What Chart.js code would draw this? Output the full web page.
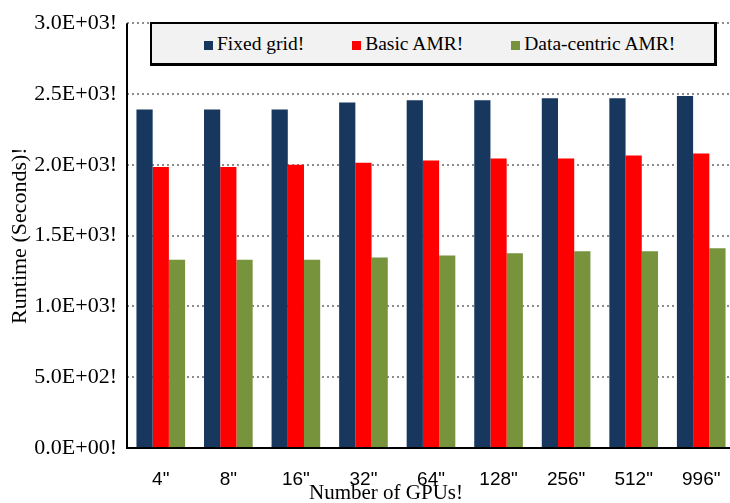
<!DOCTYPE html>
<html>
<head>
<meta charset="utf-8">
<script src="https://cdn.jsdelivr.net/npm/chart.js@4"></script>
<style>
  body { margin: 0; background: #fff; overflow: hidden; }
  #wrap { position: relative; width: 730px; height: 503px; overflow: hidden; }
  #legend {
    position: absolute; left: 150px; top: 22px; width: 567px; height: 44px;
    box-sizing: border-box; white-space: nowrap;
    background: #f2f2f2; border: 2px solid #000;
    border-right-width: 3px; border-bottom-width: 3px;
    display: flex; align-items: center; padding-left: 52px; padding-top: 1px;
    font-family: "Liberation Serif", serif; font-size: 19.5px; color: #000;
  }
  #legend .item { display: flex; align-items: center; flex-shrink: 0; }
  #legend .item + .item { margin-left: 48px; }
  #legend .box { width: 9px; height: 9px; margin-right: 4px; margin-top: 2px; flex-shrink: 0; }
</style>
</head>
<body>
<div id="wrap">
  <!-- plot area runs a few pixels past the right edge in the original -->
  <canvas id="runtimeChart" width="735" height="503"></canvas>
  <div id="legend"></div>
</div>
<script>
// Data
const gpuCounts = ['4"', '8"', '16"', '32"', '64"', '128"', '256"', '512"', '996"'];
const fixedGrid = [2390, 2390, 2390, 2440, 2455, 2455, 2470, 2470, 2485];
const basicAmr = [1985, 1985, 2000, 2015, 2030, 2045, 2045, 2065, 2080];
const dataCentricAmr = [1330, 1330, 1330, 1345, 1360, 1375, 1390, 1390, 1410];
const yTickLabels = ['0.0E+00!', '5.0E+02!', '1.0E+03!', '1.5E+03!', '2.0E+03!', '2.5E+03!', '3.0E+03!'];

const serif = '"Liberation Serif", "Times New Roman", serif';

// x axis title sits left of the plot centre in the original,
// and the y axis line is solid while the grid is dotted
const axisPlugin = {
  id: 'axisExtras',
  afterDraw(chart) {
    const ctx = chart.ctx;
    const area = chart.chartArea;
    ctx.save();
    ctx.strokeStyle = '#000';
    ctx.lineWidth = 2;
    ctx.setLineDash([]);
    ctx.beginPath();
    ctx.moveTo(area.left, area.top);
    ctx.lineTo(area.left, area.bottom + 1);
    ctx.stroke();

    ctx.font = '21px ' + serif;
    ctx.fillStyle = '#000';
    ctx.textAlign = 'center';
    ctx.textBaseline = 'alphabetic';
    ctx.fillText('Number of GPUs!', area.left + 259, chart.height - 4);
    ctx.restore();
  }
};

const chart = new Chart(document.getElementById('runtimeChart'), {
  type: 'bar',
  data: {
    labels: gpuCounts,
    datasets: [
      { label: 'Fixed grid!', data: fixedGrid, backgroundColor: '#17375e' },
      { label: 'Basic AMR!', data: basicAmr, backgroundColor: '#ff0000' },
      { label: 'Data-centric AMR!', data: dataCentricAmr, backgroundColor: '#77933c' },
    ],
  },
  options: {
    responsive: false,
    animation: false,
    layout: { padding: { top: 21, right: 0, left: 0, bottom: 0 } },
    datasets: { bar: { barPercentage: 1, categoryPercentage: 0.72 } },
    plugins: { legend: { display: false }, tooltip: { enabled: false } },
    scales: {
      x: {
        grid: { display: false },
        border: { color: '#000', width: 2 },
        ticks: {
          color: '#000',
          padding: 12,
          font: { family: '"Liberation Sans", Arial, sans-serif', size: 19 },
        },
        afterFit: (s) => { s.height = 55; },
      },
      y: {
        min: 0,
        max: 3000,
        grid: { color: '#8c8c8c', lineWidth: 2, drawTicks: false },
        border: { display: false, dash: [2, 3] },
        ticks: {
          stepSize: 500,
          color: '#000',
          padding: 10,
          font: { family: serif, size: 22 },
          callback: (v, i) => yTickLabels[i],
        },
        title: {
          display: true,
          text: 'Runtime (Seconds)!',
          color: '#000',
          padding: { top: 7, bottom: 0 },
          font: { family: serif, size: 22 },
        },
        afterFit: (s) => { s.width = 127; },
      },
    },
  },
  plugins: [axisPlugin],
});

// Legend
const legend = document.getElementById('legend');
chart.data.datasets.forEach((ds) => {
  const item = document.createElement('div');
  item.className = 'item';
  item.innerHTML = `<span class="box" style="background:${ds.backgroundColor}"></span><span>${ds.label}</span>`;
  legend.appendChild(item);
});
</script>
</body>
</html>
